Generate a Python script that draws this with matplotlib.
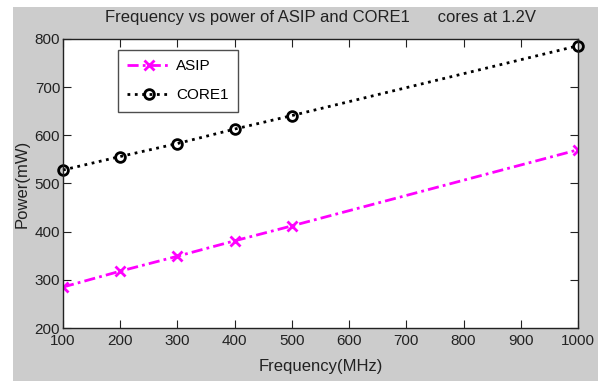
import matplotlib
matplotlib.use('Agg')
import matplotlib.pyplot as plt
from matplotlib.patches import Rectangle

freq = [100, 200, 300, 400, 500, 1000]
asip_power = [285, 318, 349, 381, 412, 570]
core1_power = [528, 556, 583, 613, 641, 786]
xticks = [100, 200, 300, 400, 500, 600, 700, 800, 900, 1000]
yticks = [200, 300, 400, 500, 600, 700, 800]

plt.rcParams['font.family'] = ['Liberation Sans Narrow', 'Liberation Sans', 'DejaVu Sans']

fig = plt.figure(figsize=(5.98, 3.81), dpi=100, facecolor='white')
# grey MATLAB-style figure background, with a white strip at left and top
fig.patches.append(Rectangle((13 / 598, 0), 1 - 13 / 598, 374 / 381,
                             transform=fig.transFigure, facecolor='#cccccc',
                             edgecolor='none', zorder=-10))

ax = fig.add_axes([63 / 598, 1 - 328 / 381, (578 - 63) / 598, (328 - 39) / 381])
ax.set_zorder(1)
ax.set_facecolor('white')

ax.plot(freq, asip_power, color='magenta', linestyle=(0, (4, 1.5, 1, 1.5)),
        linewidth=2, marker='x', markersize=7, markeredgewidth=2, label='ASIP')
ax.plot(freq, core1_power, color='black', linestyle=':', linewidth=2,
        marker='o', markersize=7, markeredgewidth=2, markerfacecolor='none',
        label='CORE1', clip_on=False)

ax.set_xlim(100, 1000)
ax.set_ylim(200, 800)
ax.set_xticks(xticks)
ax.set_yticks(yticks)
ax.tick_params(direction='in', top=True, right=True, length=6, labelsize=11,
               color='#222222', labelcolor='#222222')
ax.tick_params(axis='x', pad=4)
ax.tick_params(axis='y', pad=2)
for sp in ax.spines.values():
    sp.set_color('#222222')
    sp.set_linewidth(1)

ax.set_title('Frequency vs power of ASIP and CORE1      cores at 1.2V',
             fontsize=12, color='#222222', pad=12)
ax.set_xlabel('Frequency(MHz)', fontsize=12, color='#222222', labelpad=8)
ax.set_ylabel('Power(mW)', fontsize=12, color='#222222', labelpad=4)

leg = ax.legend(loc='upper left', bbox_to_anchor=(0.107, 0.962), fontsize=11,
                frameon=True, fancybox=False, edgecolor='#222222',
                borderaxespad=0, handlelength=2.8, borderpad=0.6,
                labelspacing=1.0, handletextpad=0.4)
leg.get_frame().set_linewidth(1)

fig.savefig('out.png', dpi=100, facecolor=fig.get_facecolor())
